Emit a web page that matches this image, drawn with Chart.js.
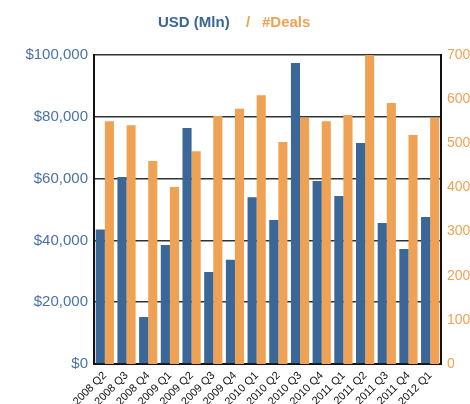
<!DOCTYPE html>
<html>
<head>
<meta charset="utf-8">
<script src="https://cdn.jsdelivr.net/npm/chart.js@4"></script>
<style>
  html, body { margin: 0; padding: 0; background: #fff; }
  #wrap { width: 470px; height: 404px; }
</style>
</head>
<body>
<div id="wrap"><canvas id="chart" width="470" height="404"></canvas></div>
<script>
const quarters = ['2008 Q2', '2008 Q3', '2008 Q4', '2009 Q1', '2009 Q2', '2009 Q3', '2009 Q4', '2010 Q1',
  '2010 Q2', '2010 Q3', '2010 Q4', '2011 Q1', '2011 Q2', '2011 Q3', '2011 Q4', '2012 Q1'];
const usdMln = [43500, 60500, 15200, 38500, 76400, 29800, 33700, 54000,
  46600, 97400, 59200, 54400, 71500, 45600, 37200, 47600];
const deals = [550, 541, 460, 401, 482, 562, 578, 609,
  503, 557, 550, 564, 700, 591, 519, 557];
const usdTicks = [0, 20000, 40000, 60000, 80000, 100000];
const dealTicks = [0, 100, 200, 300, 400, 500, 600, 700];

const BLUE = '#3a6698';
const ORANGE = '#f0a254';

// two-colour title, drawn by hand since Chart.js titles are single colour
const titlePlugin = {
  id: 'splitTitle',
  afterDraw(chart) {
    const ctx = chart.ctx;
    ctx.save();
    ctx.font = 'bold 15px "Liberation Sans", Arial, sans-serif';
    ctx.textBaseline = 'alphabetic';
    ctx.textAlign = 'left';
    ctx.fillStyle = BLUE;
    ctx.fillText('USD (Mln)', 158, 27);
    ctx.fillStyle = ORANGE;
    ctx.fillText('/', 246, 27);
    ctx.fillText('#Deals', 262, 27);
    ctx.restore();
  }
};

new Chart(document.getElementById('chart'), {
  type: 'bar',
  data: {
    labels: quarters,
    datasets: [
      { label: 'USD (Mln)', data: usdMln, backgroundColor: BLUE, yAxisID: 'y' },
      { label: '#Deals', data: deals, backgroundColor: ORANGE, yAxisID: 'y1' }
    ]
  },
  options: {
    responsive: false,
    animation: false,
    layout: { padding: { top: 55, left: 0, right: 0, bottom: 0 } },
    datasets: { bar: { categoryPercentage: 0.84, barPercentage: 1.0 } },
    plugins: {
      legend: { display: false },
      tooltip: { enabled: false }
    },
    scales: {
      x: {
        grid: { display: false },
        border: { color: '#111', width: 2 },
        ticks: {
          color: '#111',
          font: { family: '"Liberation Sans", Arial, sans-serif', size: 11 },
          maxRotation: 45, minRotation: 45, padding: -3, autoSkip: false
        },
        afterFit(scale) { scale.height = 40; }
      },
      y: {
        position: 'left',
        min: 0, max: 100000,
        afterBuildTicks(scale) { scale.ticks = usdTicks.map(v => ({ value: v })); },
        grid: { color: '#333', lineWidth: 1.5, drawTicks: false },
        border: { color: '#111', width: 2 },
        ticks: {
          color: '#4a72a8', padding: 6,
          font: { family: '"Liberation Sans", Arial, sans-serif', size: 15 },
          callback: v => '$' + v.toLocaleString('en-US')
        },
        afterFit(scale) { scale.width = 94; }
      },
      y1: {
        position: 'right',
        min: 0, max: 700,
        afterBuildTicks(scale) { scale.ticks = dealTicks.map(v => ({ value: v })); },
        grid: { display: false, drawTicks: false },
        border: { color: '#111', width: 2 },
        ticks: {
          color: ORANGE, padding: 6,
          font: { family: '"Liberation Sans", Arial, sans-serif', size: 14 }
        },
        afterFit(scale) { scale.width = 29; }
      }
    }
  },
  plugins: [titlePlugin]
});
</script>
</body>
</html>
